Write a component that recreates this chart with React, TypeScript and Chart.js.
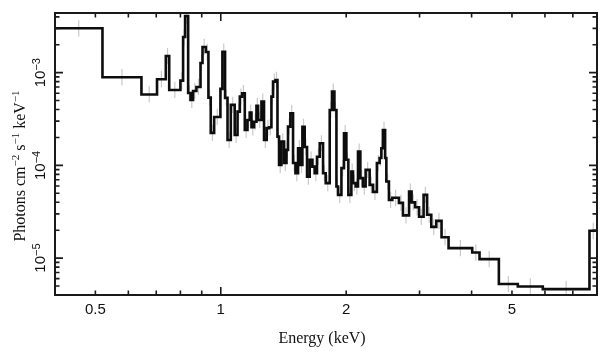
import React, { useEffect, useRef } from "react";
import { Chart, registerables } from "chart.js";

Chart.register(...registerables);

// Bin edges of the spectrum (keV)
const binEdges = [
  0.400, 0.520, 0.645, 0.703, 0.738, 0.752, 0.800, 0.812, 0.821, 0.835,
  0.846, 0.858, 0.874, 0.894, 0.904, 0.921, 0.934, 0.946, 0.964, 0.998,
  1.009, 1.024, 1.038, 1.057, 1.080, 1.097, 1.111, 1.125, 1.142, 1.159,
  1.174, 1.185, 1.202, 1.218, 1.229, 1.252, 1.270, 1.289, 1.306, 1.323,
  1.335, 1.353, 1.368, 1.380, 1.398, 1.419, 1.438, 1.450, 1.469, 1.491,
  1.511, 1.533, 1.555, 1.570, 1.590, 1.611, 1.635, 1.659, 1.681, 1.702,
  1.728, 1.760, 1.786, 1.826, 1.849, 1.874, 1.895, 1.912, 1.948, 1.976,
  2.002, 2.024, 2.058, 2.077, 2.108, 2.135, 2.163, 2.194, 2.227, 2.277,
  2.319, 2.370, 2.406, 2.429, 2.450, 2.480, 2.497, 2.533, 2.581, 2.677,
  2.737, 2.831, 2.871, 2.927, 2.992, 3.068, 3.128, 3.201, 3.291, 3.388,
  3.522, 4.014, 4.179, 4.651, 5.164, 5.929, 7.674, 8.0,
];

// Flux per bin (photons cm^-2 s^-1 keV^-1)
const flux = [
  3.01e-3, 8.92e-4, 5.82e-4, 8.49e-4, 1.51e-3, 6.51e-4, 8.20e-4, 2.42e-3, 4.08e-3, 6.04e-4,
  5.08e-4, 6.35e-4, 7.01e-4, 1.27e-3, 1.89e-3, 1.67e-3, 5.38e-4, 2.24e-4, 3.33e-4, 6.68e-4,
  1.68e-3, 5.34e-4, 1.88e-4, 4.49e-4, 2.13e-4, 3.80e-4, 5.51e-4, 6.00e-4, 2.41e-4, 3.09e-4,
  3.71e-4, 2.58e-4, 2.96e-4, 4.38e-4, 3.09e-4, 4.87e-4, 1.88e-4, 2.52e-4, 2.58e-4, 5.51e-4,
  8.00e-4, 8.34e-4, 2.04e-4, 1.01e-4, 1.81e-4, 1.06e-4, 1.47e-4, 2.62e-4, 3.65e-4, 1.06e-4,
  8.24e-5, 1.53e-4, 1.01e-4, 2.60e-4, 1.58e-4, 7.57e-5, 1.15e-4, 9.70e-5, 8.24e-5, 1.24e-4,
  1.73e-4, 8.24e-5, 6.43e-5, 3.96e-4, 6.24e-4, 3.96e-4, 5.91e-5, 4.81e-5, 9.33e-5, 2.22e-4,
  1.15e-4, 4.81e-5, 8.58e-5, 6.43e-5, 5.91e-5, 1.41e-4, 7.28e-5, 5.91e-5, 8.94e-5, 6.17e-5,
  5.18e-5, 1.06e-4, 1.20e-4, 1.53e-4, 2.41e-4, 1.20e-4, 6.69e-5, 4.25e-5, 4.47e-5, 3.94e-5,
  2.89e-5, 5.22e-5, 3.99e-5, 3.53e-5, 2.79e-5, 4.81e-5, 2.93e-5, 2.17e-5, 2.52e-5, 1.68e-5,
  1.28e-5, 1.15e-5, 9.75e-6, 5.25e-6, 4.94e-6, 4.63e-6, 1.97e-5,
];

// Apparent (roughly uniform) half-length of the grey error bars, in decades
const errorDex = 0.088;

const xLimits = [0.4, 8];
const yLimits = [4e-6, 4.4e-3];

const xLabeledTicks = [0.5, 1, 2, 5];
const xTickLabels = ["0.5", "1", "2", "5"];
const xMajorTicks = [1];
const xMinorTicks = [0.5, 0.6, 0.7, 0.8, 0.9, 2, 3, 4, 5, 6, 7, 8];

const yDecadeExponents = [-3, -4, -5];
const yMinorDecades = [1e-6, 1e-5, 1e-4, 1e-3];
const yMinorMultipliers = [2, 3, 4, 5, 6, 7, 8, 9];

const xTitle = "Energy (keV)";
const yTitleSegments = [
  { text: "Photons cm", sup: false },
  { text: "\u22122", sup: true },
  { text: " s", sup: false },
  { text: "\u22121", sup: true },
  { text: " keV", sup: false },
  { text: "\u22121", sup: true },
];

const SANS = '"Liberation Sans", Arial, Helvetica, sans-serif';
const SERIF = '"Liberation Serif", "Times New Roman", serif';

type Seg = { text: string; sup: boolean };

function richWidth(ctx: CanvasRenderingContext2D, segs: Seg[], base: string, sup: string) {
  let w = 0;
  for (const s of segs) {
    ctx.font = s.sup ? sup : base;
    w += ctx.measureText(s.text).width;
  }
  return w;
}

function drawRich(
  ctx: CanvasRenderingContext2D,
  segs: Seg[],
  x0: number,
  base: string,
  sup: string,
  raise: number
) {
  let x = x0;
  for (const s of segs) {
    ctx.font = s.sup ? sup : base;
    ctx.fillText(s.text, x, s.sup ? -raise : 0);
    x += ctx.measureText(s.text).width;
  }
}

const errorBarPlugin = {
  id: "errorBars",
  beforeDatasetsDraw(chart: any) {
    const { ctx, chartArea: a, scales } = chart;
    const xs = scales.x;
    const ys = scales.y;
    ctx.save();
    ctx.beginPath();
    ctx.rect(a.left, a.top, a.right - a.left, a.bottom - a.top);
    ctx.clip();
    ctx.strokeStyle = "#c9c9c9";
    ctx.lineWidth = 1.2;
    ctx.beginPath();
    for (let i = 0; i < flux.length; i++) {
      const xc = Math.sqrt(binEdges[i] * binEdges[i + 1]);
      const px = xs.getPixelForValue(xc);
      const lo = flux[i] / Math.pow(10, errorDex);
      const hi = flux[i] * Math.pow(10, errorDex);
      ctx.moveTo(px, ys.getPixelForValue(hi));
      ctx.lineTo(px, ys.getPixelForValue(lo));
    }
    ctx.stroke();
    ctx.restore();
  },
};

const axesPlugin = {
  id: "xspecAxes",
  afterDatasetsDraw(chart: any) {
    const { ctx, chartArea: a, scales } = chart;
    const xs = scales.x;
    const ys = scales.y;
    ctx.save();
    ctx.strokeStyle = "#1a1a1a";
    ctx.fillStyle = "#111";
    ctx.lineWidth = 2;
    ctx.strokeRect(a.left, a.top, a.right - a.left, a.bottom - a.top);

    ctx.lineWidth = 1.6;
    ctx.beginPath();
    for (const v of xMinorTicks) {
      const px = xs.getPixelForValue(v);
      ctx.moveTo(px, a.bottom);
      ctx.lineTo(px, a.bottom - 4.5);
      ctx.moveTo(px, a.top);
      ctx.lineTo(px, a.top + 4.5);
    }
    for (const v of xMajorTicks) {
      const px = xs.getPixelForValue(v);
      ctx.moveTo(px, a.bottom);
      ctx.lineTo(px, a.bottom - 8);
      ctx.moveTo(px, a.top);
      ctx.lineTo(px, a.top + 8);
    }
    for (const d of yMinorDecades) {
      for (const m of yMinorMultipliers) {
        const v = d * m;
        if (v <= yLimits[0] || v >= yLimits[1]) continue;
        const py = ys.getPixelForValue(v);
        ctx.moveTo(a.left, py);
        ctx.lineTo(a.left + 4.5, py);
        ctx.moveTo(a.right, py);
        ctx.lineTo(a.right - 4.5, py);
      }
    }
    for (const e of yDecadeExponents) {
      const py = ys.getPixelForValue(Math.pow(10, e));
      ctx.moveTo(a.left, py);
      ctx.lineTo(a.left + 8, py);
      ctx.moveTo(a.right, py);
      ctx.lineTo(a.right - 8, py);
    }
    ctx.stroke();

    ctx.font = `15px ${SANS}`;
    ctx.textAlign = "center";
    ctx.textBaseline = "alphabetic";
    xLabeledTicks.forEach((v, i) => {
      const px = xs.getPixelForValue(v);
      ctx.fillText(xTickLabels[i], px, a.bottom + 18.5);
    });

    ctx.textAlign = "left";
    const baseF = `15px ${SANS}`;
    const supF = `11px ${SANS}`;
    for (const e of yDecadeExponents) {
      const py = ys.getPixelForValue(Math.pow(10, e));
      const segs = [
        { text: "10", sup: false },
        { text: "\u2212" + String(Math.abs(e)), sup: true },
      ];
      const w = richWidth(ctx, segs, baseF, supF);
      ctx.save();
      ctx.translate(a.left - 10, py);
      ctx.rotate(-Math.PI / 2);
      drawRich(ctx, segs, -w / 2, baseF, supF, 5.5);
      ctx.restore();
    }

    ctx.font = `16px ${SERIF}`;
    ctx.textAlign = "center";
    ctx.fillText(xTitle, 322, 343);

    ctx.textAlign = "left";
    const tBase = `16px ${SERIF}`;
    const tSup = `11px ${SERIF}`;
    const tw = richWidth(ctx, yTitleSegments, tBase, tSup);
    ctx.save();
    ctx.translate(25, 166);
    ctx.rotate(-Math.PI / 2);
    drawRich(ctx, yTitleSegments, -tw / 2, tBase, tSup, 6);
    ctx.restore();

    ctx.restore();
  },
};

export default function App() {
  const ref = useRef<HTMLCanvasElement>(null);
  useEffect(() => {
    const canvas = ref.current;
    if (!canvas) return;
    const points = binEdges.map((e, i) => ({
      x: e,
      y: flux[Math.min(i, flux.length - 1)],
    }));
    const chart = new Chart(canvas, {
      type: "line",
      data: {
        datasets: [
          {
            data: points,
            stepped: "before",
            borderColor: "#0d0d0d",
            borderWidth: 2.6,
            pointRadius: 0,
            fill: false,
            tension: 0,
          } as any,
        ],
      },
      options: {
        responsive: false,
        animation: false,
        devicePixelRatio: 1,
        layout: { padding: { left: 55, right: 12, top: 13, bottom: 62 } },
        plugins: { legend: { display: false }, tooltip: { enabled: false } },
        scales: {
          x: { type: "logarithmic", min: xLimits[0], max: xLimits[1], display: false },
          y: { type: "logarithmic", min: yLimits[0], max: yLimits[1], display: false },
        },
      },
      plugins: [errorBarPlugin, axesPlugin],
    });
    return () => chart.destroy();
  }, []);
  return (
    <div style={{ position: "absolute", left: 0, top: 0, width: 609, height: 357, background: "#fff" }}>
      <canvas ref={ref} width={609} height={357} style={{ display: "block", width: 609, height: 357 }} />
    </div>
  );
}
